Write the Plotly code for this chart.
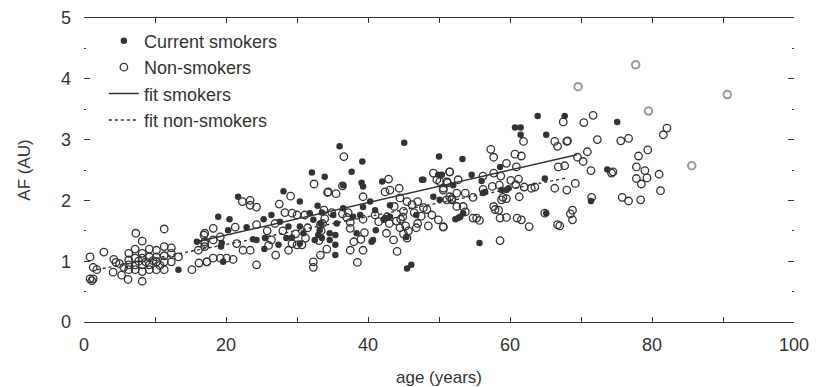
import plotly.graph_objects as go

# ---------------- data ----------------
smokers_age = [13.3, 15.9, 18.9, 20.5, 21.7, 20.3, 19.4, 19.3, 19.6, 22.9, 23.8, 24.3, 25.5, 25.4, 25.3,
               26.4, 27.6, 28.8, 27.4, 28.1, 30.4, 28.5, 30.4, 31.8, 32.3, 33.2, 32.5, 33.0, 33.5, 32.9,
               32.1, 33.9, 36.0, 37.7, 39.2, 36.5, 39.1, 39.3, 42.0, 45.1, 47.6, 47.8, 49.9, 50.0, 40.3,
               41.0, 39.3, 43.1, 36.5, 35.1, 35.6, 37.9, 38.9, 42.2, 42.4, 43.1, 41.1, 34.6, 35.4, 34.6,
               38.4, 35.4, 40.5, 40.7, 45.4, 46.8, 49.2, 35.4, 45.5, 46.1, 50.1, 50.4, 52.0, 53.3, 54.6,
               56.0, 58.6, 56.5, 56.2, 58.8, 59.5, 59.8, 52.3, 52.7, 53.0, 53.4, 55.7, 60.7, 61.5, 61.5,
               63.9, 65.1, 64.9, 65.1, 67.7, 75.1, 73.7, 71.4, 30.4, 30.9, 29.3, 33.3, 33.5]
smokers_af = [0.86, 1.32, 1.73, 1.69, 2.06, 1.51, 1.30, 1.24, 0.99, 1.56, 1.36, 1.35, 1.38, 1.20, 1.69,
              1.76, 1.65, 1.57, 1.27, 2.15, 1.98, 1.38, 1.29, 1.79, 1.68, 1.51, 1.35, 1.43, 1.38, 1.91,
              2.46, 2.39, 2.89, 2.47, 2.64, 2.25, 2.29, 2.23, 2.31, 2.95, 2.34, 2.34, 2.42, 2.72, 1.98,
              1.84, 1.89, 1.92, 1.87, 1.76, 1.62, 1.73, 1.76, 1.68, 1.71, 1.73, 1.51, 1.46, 1.43, 1.35,
              1.46, 1.27, 1.32, 1.35, 1.40, 1.76, 2.06, 1.10, 0.88, 0.94, 2.01, 2.42, 2.25, 2.68, 2.42,
              2.32, 2.55, 2.14, 2.12, 2.17, 2.17, 2.20, 1.69, 1.71, 1.73, 1.79, 1.30, 3.20, 3.20, 3.08,
              3.39, 3.08, 2.36, 1.79, 3.39, 3.29, 2.51, 1.99, 1.57, 1.46, 1.39, 1.62, 1.80]

nonsmokers_age = [0.85, 1.3, 1.8, 0.85, 1.3, 1.1, 2.8, 4.2, 4.1, 5.3, 6.2, 7.3, 8.2, 11.3, 8.2,
                  6.3, 7.2, 8.2, 9.2, 10.2, 11.3, 12.3,
                  6.3, 7.2, 8.2, 9.2, 10.2, 11.3, 12.3, 13.3,
                  6.3, 7.2, 8.2, 9.2, 10.2, 11.3, 12.3,
                  6.3, 7.2, 8.2, 9.2, 10.2, 11.3,
                  5.0, 5.6, 7.7, 8.7, 9.7, 10.7, 4.5,
                  15.2, 16.2, 17.3, 16.1, 17.0, 17.0, 16.9,
                  22.3, 23.4, 23.4, 24.3, 27.5, 29.1, 32.4, 34.3, 28.3, 29.3, 30.0, 31.1, 24.3, 21.3,
                  18.2, 17.0, 17.0, 18.2, 19.2, 26.4, 29.3, 30.0, 30.7, 22.4, 23.4, 21.5, 21.0, 20.1,
                  19.2, 18.2, 17.3, 24.3, 32.3, 32.3,
                  26.9, 28.0, 31.5, 29.8, 25.8, 27.0, 28.8, 26.0, 31.2, 33.6, 33.9, 34.2, 33.3,
                  36.6, 34.4, 35.5, 36.4, 42.9, 42.4, 43.1, 44.4, 39.3, 49.2, 49.7, 50.1, 51.1, 51.5,
                  50.6, 51.1, 51.8,
                  33.8, 34.9, 36.4, 37.2,
                  44.5, 45.5, 46.2, 47.0, 47.8, 45.0, 46.5, 48.3, 49.0, 47.5, 44.9, 43.7,
                  41.0, 41.5, 42.7, 43.0, 44.0, 44.6, 45.3,
                  37.5, 37.5, 39.3, 39.5, 37.0, 33.3, 33.1, 33.4, 38.0, 39.0,
                  44.5, 45.7, 46.8, 47.0, 48.5, 50.6, 49.9,
                  37.5, 39.3, 38.5, 42.6, 43.6, 44.1, 45.0, 45.5,
                  57.3, 57.7, 60.7, 61.6, 61.9, 67.5, 66.3, 66.7, 68.0, 59.5, 60.9, 51.5, 51.2, 52.7,
                  53.7, 52.5, 51.5, 50.6, 56.2, 57.7, 58.7, 61.2,
                  54.8, 56.2, 57.5, 58.5, 59.0, 60.1, 60.8, 61.3, 62.0,
                  63.0, 63.5, 66.3, 68.0, 66.8, 67.7,
                  57.7, 57.9, 58.4, 58.8, 59.5, 51.8, 52.5, 53.4, 53.7, 54.8, 55.3, 55.7, 58.6, 59.5,
                  61.0, 61.6, 62.7, 66.7, 50.6, 58.6, 64.9,
                  70.4, 71.7, 68.1, 72.3, 75.6, 76.7, 82.1, 81.6, 79.4, 70.9, 69.5, 70.3, 78.1, 71.4,
                  74.3, 74.5, 77.8, 79.0, 79.3, 77.8, 78.5, 81.0, 81.2, 69.2, 71.5, 75.8, 76.7, 78.4,
                  68.8, 68.5, 68.8, 67.0]
nonsmokers_af = [1.07, 0.90, 0.86, 0.71, 0.71, 0.68, 1.15, 1.03, 0.82, 0.77, 0.70, 1.46, 1.33, 1.53, 0.67,
                 1.13, 1.20, 1.13, 1.20, 1.18, 1.24, 1.22,
                 1.02, 1.05, 1.05, 1.07, 1.07, 1.09, 1.13, 1.07,
                 0.94, 0.94, 0.94, 0.94, 0.99, 0.99, 0.99,
                 0.86, 0.86, 0.83, 0.86, 0.86, 0.86,
                 0.96, 0.90, 1.00, 0.99, 1.01, 0.93, 0.98,
                 0.86, 0.97, 0.99, 1.18, 1.24, 1.32, 1.43,
                 1.98, 2.00, 1.92, 1.89, 1.94, 2.07, 2.27, 2.13, 1.80, 1.79, 1.76, 1.76, 1.60, 1.56,
                 1.54, 1.46, 1.29, 1.35, 1.40, 1.35, 1.29, 1.27, 1.27, 1.18, 1.18, 1.29, 1.03, 1.05,
                 1.05, 1.05, 0.99, 0.94, 0.99, 0.90,
                 1.62, 1.50, 1.55, 1.45, 1.50, 1.10, 1.18, 1.26, 1.38, 1.62, 1.70, 1.20, 1.10,
                 2.72, 2.14, 2.11, 2.24, 2.35, 2.14, 2.17, 2.20, 2.06, 2.45, 2.34, 2.31, 2.31, 2.47,
                 2.17, 2.01, 2.01,
                 1.84, 1.80, 1.78, 1.80,
                 2.04, 1.98, 1.93, 1.98, 1.88, 1.82, 1.80, 1.85, 1.76, 1.74, 1.73, 1.90,
                 1.76, 1.65, 1.73, 1.62, 1.66, 1.69, 1.58,
                 1.64, 1.54, 1.69, 1.47, 1.72, 1.60, 1.34, 1.50, 1.32, 1.36,
                 1.55, 1.50, 1.55, 1.62, 1.58, 1.56, 1.68,
                 1.18, 1.18, 0.98, 1.46, 1.35, 1.16, 1.45, 1.38,
                 2.84, 2.71, 2.76, 2.73, 2.97, 3.29, 2.97, 2.89, 2.97, 2.61, 2.55, 2.47, 2.29, 2.34,
                 2.12, 2.12, 2.06, 2.20, 2.40, 2.45, 2.40, 2.35,
                 2.05, 2.18, 2.23, 2.25, 2.05, 2.33, 2.26, 2.06, 2.22,
                 2.20, 2.22, 2.20, 2.17, 2.55, 2.57,
                 1.90, 1.85, 1.84, 2.01, 2.03, 2.03, 1.90, 1.90, 1.81, 1.71, 1.71, 1.67, 1.71, 1.72,
                 1.71, 1.68, 1.57, 1.60, 1.57, 1.34, 1.79,
                 3.28, 3.40, 2.98, 3.00, 2.98, 3.02, 3.19, 3.08, 2.83, 2.80, 2.71, 2.64, 2.73, 2.49,
                 2.45, 2.47, 2.55, 2.49, 2.37, 2.36, 2.27, 2.43, 2.16, 2.28, 2.05, 2.05, 1.99, 2.01,
                 1.84, 1.78, 1.68, 1.58]

# faint (grey) non-smoker points in the scan
faint_age = [69.6, 77.7, 90.6, 85.6, 79.5]
faint_af = [3.87, 4.23, 3.74, 2.57, 3.47]

# regression line end points
fit_smokers_age = [15.9, 69.4]
fit_smokers_af = [1.32, 2.75]
fit_non_age = [1.8, 68.0]
fit_non_af = [0.86, 2.37]

x_ticks = [0, 10, 20, 30, 40, 50, 60, 70, 80, 90, 100]
x_ticktext = ["0", "", "20", "", "40", "", "60", "", "80", "", "100"]
y_ticks = [0, 1, 2, 3, 4, 5]

INK = "#333333"
FONT = "Liberation Sans, Arial, sans-serif"

fig = go.Figure()
fig.add_trace(go.Scatter(x=smokers_age, y=smokers_af, mode="markers", name="Current smokers",
                         marker=dict(symbol="circle", size=6.5, color=INK, line=dict(width=0))))
fig.add_trace(go.Scatter(x=nonsmokers_age, y=nonsmokers_af, mode="markers", name="Non-smokers",
                         legendgroup="non",
                         marker=dict(symbol="circle-open", size=7.5, color=INK, line=dict(width=1.3))))
fig.add_trace(go.Scatter(x=faint_age, y=faint_af, mode="markers", name="Non-smokers",
                         legendgroup="non", showlegend=False,
                         marker=dict(symbol="circle-open", size=7.5, color="#9a9a9a", line=dict(width=2))))
fig.add_trace(go.Scatter(x=fit_smokers_age, y=fit_smokers_af, mode="lines", name="fit smokers",
                         line=dict(color=INK, width=1.4)))
fig.add_trace(go.Scatter(x=fit_non_age, y=fit_non_af, mode="lines", name="fit non-smokers",
                         line=dict(color=INK, width=1.4, dash="dot")))

fig.update_layout(
    width=816, height=387,
    margin=dict(l=84, r=22, t=18, b=65),
    paper_bgcolor="white", plot_bgcolor="white",
    font=dict(family=FONT, size=18, color=INK),
    showlegend=True,
    legend=dict(x=0.028, y=0.985, xanchor="left", yanchor="top",
                bgcolor="rgba(0,0,0,0)", borderwidth=0,
                font=dict(family=FONT, size=18, color=INK), itemwidth=30,
                tracegroupgap=0),
)
fig.update_xaxes(
    range=[0, 100], showgrid=False, zeroline=False, automargin=False,
    showline=True, linecolor=INK, linewidth=1.3, mirror="ticks",
    ticks="inside", ticklen=5, tickcolor=INK, tickwidth=1,
    tickmode="array", tickvals=x_ticks, ticktext=x_ticktext,
    ticklabelstandoff=6,
    title=dict(text="age (years)", font=dict(family=FONT, size=17, color=INK), standoff=18),
)
fig.update_yaxes(
    range=[0, 5], showgrid=False, zeroline=False, automargin=False,
    showline=False, mirror="ticks",
    ticks="inside", ticklen=6, tickcolor=INK, tickwidth=1,
    tickmode="array", tickvals=y_ticks,
    minor=dict(dtick=0.5, ticks="inside", ticklen=2, tickcolor=INK, tickwidth=1),
    ticklabelstandoff=12,
    title=dict(text="AF (AU)", font=dict(family=FONT, size=17, color=INK), standoff=26),
)

fig.write_html("out.html")
